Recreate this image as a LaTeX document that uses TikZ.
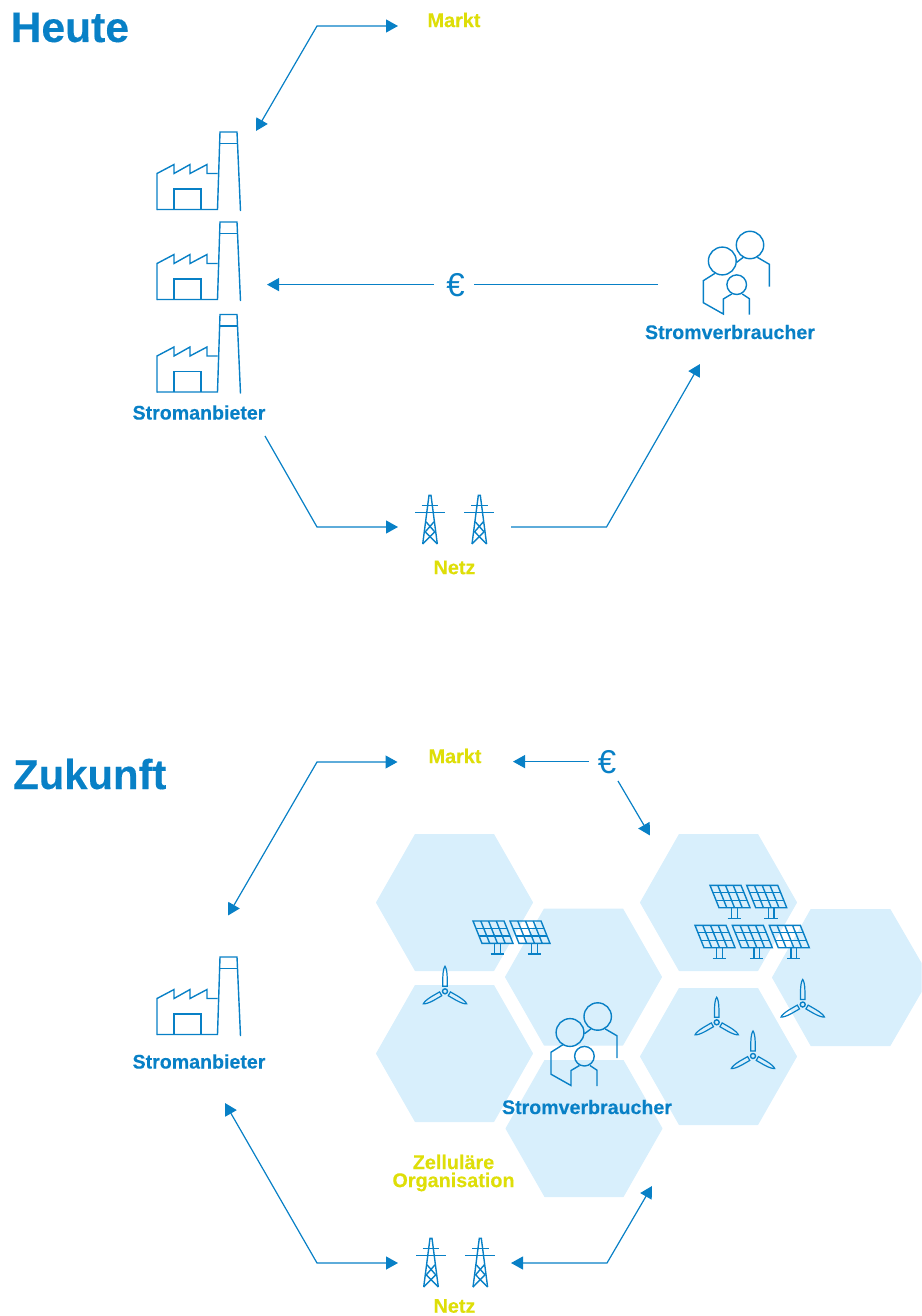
\documentclass[tikz,border=0pt]{standalone}
\usepackage{fontspec}
\setmainfont[BoldFeatures={FakeBold=0.25}]{Liberation Sans}
\usetikzlibrary{arrows.meta}
\definecolor{eblue}{HTML}{0880C6}
\definecolor{eyellow}{HTML}{DEDE08}
\definecolor{hexfill}{HTML}{D8EFFC}
\tikzset{
  x=1pt,y=-1pt,
  ico/.style={draw=eblue,line width=1.4pt,line join=miter,fill=none},
  hexcell/.style={fill=hexfill,draw=hexfill,line width=1pt,line join=round},
  conn/.style={draw=eblue,line width=1.2pt},
  tip/.style={-{Triangle[length=12pt,width=13pt]}},
  tips/.style={{Triangle[length=12pt,width=13pt]}-{Triangle[length=12pt,width=13pt]}},
  headline/.style={text=eblue,font=\fontsize{42.6}{44}\bfseries\selectfont,inner sep=0pt},
  bluelabel/.style={text=eblue,font=\fontsize{19.6}{20}\bfseries\selectfont,inner sep=0pt},
  yellowlabel/.style={text=eyellow,font=\fontsize{19.8}{18}\bfseries\selectfont,inner sep=0pt,align=center},
  euro/.style={text=eblue,font=\fontsize{33}{33}\selectfont,inner sep=0pt},
  factorypic/.pic={
    \draw[ico] (0,78) -- (0,41.5) -- (17,32.5) -- (17,41.5) -- (33,32.5) -- (33,41.5) -- (50,32.5) -- (50,41.5) -- (60.5,41.5);
    \draw[ico] (0,77.5) -- (60.5,77.5) -- (63,0) -- (80,0) -- (83.5,79);
    \draw[ico] (63,11.5) -- (80,11.5);
    \draw[ico] (17,77.5) -- (17,57) -- (44,57) -- (44,77.5);
  },
  peoplepic/.pic={
    \draw[ico] (70,13) circle[radius=13.7];
    \draw[ico] (42.3,29) circle[radius=13.9];
    \draw[ico] (56.7,52.7) circle[radius=9.8];
    \draw[ico] (56.7,30.3) -- (63.3,25.3);
    \draw[ico] (77.3,25.3) -- (89.3,32.3) -- (89.3,54.7);
    \draw[ico] (35,41.3) -- (23.3,48.7) -- (23.3,70.7) -- (43.3,82) -- (43.3,67) -- (51.7,62);
    \draw[ico] (62.3,62) -- (69.3,66.7) -- (69.3,82.7);
  },
  pylonpic/.pic={
    \draw[ico] (-7.3,48.7) -- (-1,0) -- (1,0) -- (7.3,48.7);
    \draw[ico] (-8.3,10.4) -- (8.3,10.4);
    \draw[ico] (-15,17.4) -- (15,17.4);
    \draw[ico] (-4,26.5) -- (4.7,36.5) -- (-7.3,48.7);
    \draw[ico] (4,26.5) -- (-4.7,36.5) -- (7.3,48.7);
  },
  solarpic/.pic={
    \draw[ico] (0,0) -- (31,0) -- (40,22.4) -- (9,22.4) -- cycle;
    \foreach \i in {1,2,3}{\draw[ico] ({\i*7.75},0) -- ({9+\i*7.75},22.4);}
    \draw[ico] (3,7.47) -- (34,7.47);
    \draw[ico] (6,14.93) -- (37,14.93);
    \draw[ico] (21.7,22.4) -- (21.7,33) (27.3,22.4) -- (27.3,33);
    \draw[ico] (17.7,33) -- (31,33);
  },
  turbinepic/.pic={
    \draw[ico] (0,0) circle[radius=2.5];
    \foreach \a in {0,120,240}{
      \draw[ico,line width=1.2pt,rotate=\a] (-2.2,-5) -- (-2.2,-14) .. controls (-2.1,-20) and (-1,-24) .. (0,-25) .. controls (1,-24) and (2.1,-20) .. (2.2,-14) -- (2.2,-5) -- cycle;
    }
  }
}
\begin{document}
\begin{tikzpicture}
\useasboundingbox (0,0) rectangle (921,1316);
% hexagons
\foreach \n/\cx/\cy in {h1/454.5/902.5,h2/583.5/977,h3/454.5/1053.5,h4/584/1128.5,h5/718.5/902.5,h6/718.5/1056.5}{
  \filldraw[hexcell] (\cx-78,\cy) -- (\cx-39.2,\cy-68) -- (\cx+39.2,\cy-68) -- (\cx+78,\cy) -- (\cx+39.2,\cy+68) -- (\cx-39.2,\cy+68) -- cycle;
}
\filldraw[hexcell] (772.5,977.5) -- (811,909.5) -- (890,909.5) -- (921,963) -- (921,992) -- (890,1045.5) -- (811,1045.5) -- cycle;

% titles
\node[headline,anchor=base west] (heute) at (10.5,42) {Heute};
\node[headline,anchor=base west,font=\fontsize{41.8}{44}\bfseries\selectfont] (zukunft) at (13,789) {Zukunft};

% labels
\node[yellowlabel] (marktA) at (454,20) {Markt};
\node[yellowlabel] (netzA) at (454.5,567.5) {Netz};
\node[bluelabel] (anbieterA) at (199,412.5) {Stromanbieter};
\node[bluelabel] (verbrA) at (730,332) {Stromverbraucher};
\node[euro] (euroA) at (455.5,285.5) {€};

\node[yellowlabel] (marktB) at (455,756) {Markt};
\node[yellowlabel] (netzB) at (454.5,1306) {Netz};
\node[bluelabel] (anbieterB) at (199,1061.5) {Stromanbieter};
\node[bluelabel] (verbrB) at (587,1107) {Stromverbraucher};
\node[euro] (euroB) at (607,762.5) {€};
\node[yellowlabel] (zell) at (453.5,1173) {Zelluläre\\Organisation};

% icons: top picture
\pic (fa1) at (157,132) {factorypic};
\pic (fa2) at (157,222) {factorypic};
\pic (fa3) at (157,314.5) {factorypic};
\pic (pa) at (680,232) {peoplepic};
\pic (pya1) at (430,495.3) {pylonpic};
\pic (pya2) at (479.3,495.3) {pylonpic};

% icons: bottom picture
\pic (fb1) at (157,957) {factorypic};
\pic (pb) at (527.7,1003.5) {peoplepic};
\pic (pyb1) at (431,1238.3) {pylonpic};
\pic (pyb2) at (480.3,1238.3) {pylonpic};
\foreach \n/\px/\py in {s1/473/921,s2/510/921,s3/710/885.3,s4/746.7/885.3,s5/695/925.3,s6/732.3/925.3,s7/769.3/925.3}{
  \pic (\n) at (\px,\py) {solarpic};
}
\foreach \n/\px/\py in {t1/445/991.3,t2/716.7/1022.3,t3/753/1056,t4/802.7/1004.5}{
  \pic (\n) at (\px,\py) {turbinepic};
}

% free connector ends and bends
\coordinate (a1) at (398,26);
\coordinate (a2) at (317,26);
\coordinate (a3) at (256,131);
\coordinate (b1) at (658,284.6);
\coordinate (b2) at (474,284.6);
\coordinate (b3) at (434,284.6);
\coordinate (b4) at (267,284.6);
\coordinate (c1) at (265,436);
\coordinate (c2) at (317,527);
\coordinate (c3) at (398,527);
\coordinate (d1) at (511,527);
\coordinate (d2) at (606.5,527);
\coordinate (d3) at (700,364);
\coordinate (e1) at (397.5,762);
\coordinate (e2) at (317,762);
\coordinate (e3) at (228,915.5);
\coordinate (f1) at (589,761.6);
\coordinate (f2) at (513,761.6);
\coordinate (f3) at (618,781);
\coordinate (f4) at (650,835.5);
\coordinate (g1) at (225,1103);
\coordinate (g2) at (317,1263);
\coordinate (g3) at (398,1263);
\coordinate (k1) at (511,1263);
\coordinate (k2) at (607,1263);
\coordinate (k3) at (652,1186);

% connectors
\draw[conn,tips] (a1) -- (a2) -- (a3);
\draw[conn] (b1) -- (b2);
\draw[conn,tip] (b3) -- (b4);
\draw[conn,tip] (c1) -- (c2) -- (c3);
\draw[conn,tip] (d1) -- (d2) -- (d3);
\draw[conn,tips] (e1) -- (e2) -- (e3);
\draw[conn,tip] (f1) -- (f2);
\draw[conn,tip] (f3) -- (f4);
\draw[conn,tips] (g1) -- (g2) -- (g3);
\draw[conn,tips] (k1) -- (k2) -- (k3);
\end{tikzpicture}
\end{document}
